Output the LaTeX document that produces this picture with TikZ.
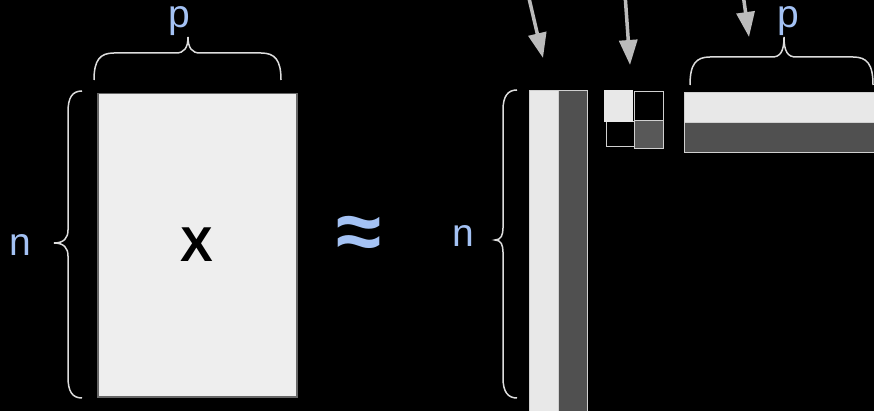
\documentclass[tikz,border=0pt]{standalone}
\usepackage{fontspec}
\setmainfont{Liberation Sans}
\usetikzlibrary{arrows.meta}
\definecolor{lblue}{HTML}{A4C2F4}
\definecolor{xfill}{HTML}{EEEEEE}
\definecolor{xborder}{HTML}{666666}
\definecolor{lightcell}{HTML}{E8E8E8}
\definecolor{darkcell}{HTML}{505050}
\definecolor{cellborder}{HTML}{D0D0D0}
\definecolor{bracecol}{HTML}{DDDDDD}
\definecolor{arrowcol}{HTML}{BBBBBB}
\tikzset{
  lbl/.style={text=lblue, font=\fontsize{39}{39}\selectfont, inner sep=0},
  cell/.style={draw=cellborder, line width=1pt, inner sep=0, outer sep=0, anchor=north west},
  bracepath/.style={draw=bracecol, line width=1.5pt},
  pointer/.style={draw=arrowcol, line width=3.5pt, -{Triangle[width=18pt,length=25pt]}, arrowcol}
}
\begin{document}
\begin{tikzpicture}[x=1pt,y=-1pt]
\fill[black] (0,0) rectangle (874,411);
\useasboundingbox (0,0) rectangle (874,411);
\clip (0,0) rectangle (874,411);

% X matrix
\node[draw=xborder, fill=xfill, line width=1.5pt, minimum width=199pt, minimum height=303pt,
      anchor=north west, inner sep=0] (X) at (97,93) {};
\node[font=\bfseries\fontsize{49}{49}\selectfont, inner sep=0] (Xl) at (197,244.5) {X};

% braces around X
\path[bracepath] (94,80) .. controls (94,60) and (100,53) .. (114,53) -- (176,53)
  .. controls (184,53) and (188,48) .. (188,37) .. controls (188,48) and (192,53) .. (200,53)
  -- (261,53) .. controls (275,53) and (281,60) .. (281,80);
\path[bracepath] (82,91) .. controls (72,91) and (68,98) .. (68,112) -- (68,230)
  .. controls (68,238) and (64,243) .. (54,243) .. controls (64,243) and (68,248) .. (68,256)
  -- (68,377) .. controls (68,391) and (72,398) .. (82,398);

\node[lbl] (p1) at (179,21.5) {p};
\node[lbl] (n1) at (20,245.5) {n};
\node[text=lblue, font=\bfseries\fontsize{82}{82}\selectfont, inner sep=0] (approx) at (359,238) {≈};
\node[lbl] (n2) at (463,236) {n};

% U columns
\node[cell, fill=lightcell, minimum width=29pt, minimum height=330pt] (u1) at (529,91) {};
\node[cell, fill=darkcell, minimum width=29pt, minimum height=330pt] (u2) at (558,91) {};

% second vertical brace
\path[bracepath] (517,90) .. controls (508,90) and (503,96) .. (503,110) -- (503,228)
  .. controls (503,235) and (501,240) .. (495,240) .. controls (501,240) and (503,245) .. (503,252)
  -- (503,378) .. controls (503,392) and (508,398) .. (517,398);

% singular value squares
\node[cell, fill=black, minimum width=29pt, minimum height=29pt] (s12) at (634,92) {};
\node[cell, fill=black, minimum width=28pt, minimum height=25pt] (s21) at (606,122) {};
\node[cell, fill=darkcell!110!black, minimum width=29pt, minimum height=28pt] (s22) at (634,121) {};
\node[anchor=north west, fill=lightcell, inner sep=0, minimum width=29pt, minimum height=32pt] (s11) at (604,90) {};

% V rows
\node[cell, fill=lightcell, minimum width=200pt, minimum height=30pt] (v1) at (684,93) {};
\node[cell, fill=darkcell, minimum width=200pt, minimum height=30pt] (v2) at (684,123) {};

% brace above V
\path[bracepath] (690,85) .. controls (690,64) and (696,57) .. (710,57) -- (772,57)
  .. controls (780,57) and (784,52) .. (784,37) .. controls (784,52) and (788,57) .. (796,57)
  -- (853,57) .. controls (867,57) and (873,64) .. (873,85);
\node[lbl] (p2) at (788,21.5) {p};

% arrows
\coordinate (a1s) at (528,-6);
\coordinate (a1e) at (543,58);
\coordinate (a2s) at (625,-6);
\coordinate (a2e) at (630,65);
\coordinate (a3s) at (743,-6);
\coordinate (a3e) at (749,37);
\draw[pointer] (a1s) -- (a1e);
\draw[pointer] (a2s) -- (a2e);
\draw[pointer] (a3s) -- (a3e);
\end{tikzpicture}
\end{document}
